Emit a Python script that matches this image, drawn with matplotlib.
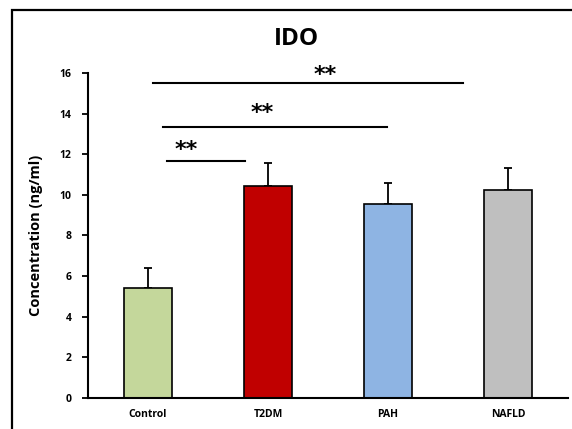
import matplotlib
matplotlib.use("Agg")
import matplotlib.pyplot as plt
from matplotlib.patches import Rectangle

plt.rcParams['font.family'] = ['Open Sans', 'DejaVu Sans']
plt.rcParams['font.weight'] = 'bold'

categories = ["Control", "T2DM", "PAH", "NAFLD"]
means = [5.4, 10.45, 9.57, 10.25]
errors = [1.0, 1.1, 1.03, 1.08]
colors = ["#C4D79B", "#C00000", "#8EB4E3", "#BFBFBF"]
yticks = [0, 2, 4, 6, 8, 10, 12, 14, 16]

# significance brackets
sig_x0 = [0.16, 0.125, 0.04]
sig_x1 = [0.81, 1.99, 2.625]
sig_y = [11.65, 13.36, 15.53]
star_x = [0.317, 0.95, 1.475]
star_y = [12.2, 14.05, 15.9]
star_labels = ["**", "**", "**"]

fig = plt.figure(figsize=(5.72, 4.29), dpi=100)
ax = fig.add_axes([0.1538, 0.0723, 0.8392, 0.7575])

x = list(range(len(categories)))
ax.bar(x, means, width=0.4, color=colors, edgecolor="black", linewidth=1.2, zorder=2)
ax.errorbar(x, means, yerr=[[0]*len(means), errors], fmt="none", ecolor="black",
            elinewidth=1.3, capsize=3, capthick=1.3, zorder=1)

ax.set_xlim(-0.5, 3.5)
ax.set_ylim(0, 16)
ax.set_yticks(yticks)
ax.set_xticks(x)
ax.set_xticklabels(categories, fontsize=7.5, fontweight="bold")
ax.set_yticklabels([str(t) for t in yticks], fontsize=7.5, fontweight="bold")
ax.tick_params(axis="y", direction="out", length=4, width=1.3, pad=8)
ax.tick_params(axis="x", length=0, pad=8)
for s in ["top", "right"]:
    ax.spines[s].set_visible(False)
for s in ["left", "bottom"]:
    ax.spines[s].set_linewidth(1.5)
ax.set_ylabel("Concentration (ng/ml)", fontsize=10.5, fontweight="bold", labelpad=12)

for x0, x1, yl, xs, ys, lab in zip(sig_x0, sig_x1, sig_y, star_x, star_y, star_labels):
    ax.plot([x0, x1], [yl, yl], color="black", lw=1.5, clip_on=False)
    ax.text(xs, ys, lab, ha="center", va="center", fontsize=16, fontweight="bold",
            clip_on=False, family=["DejaVu Sans"])

fig.text(0.519, 0.908, "IDO", ha="center", va="center", fontsize=17.5, fontweight="bold")

fig.patches.append(Rectangle((0.021, -0.2), 1.2, 0.9767 + 0.2, transform=fig.transFigure,
                             fill=False, edgecolor="black", linewidth=1.6))

fig.savefig("out.png", dpi=100)
